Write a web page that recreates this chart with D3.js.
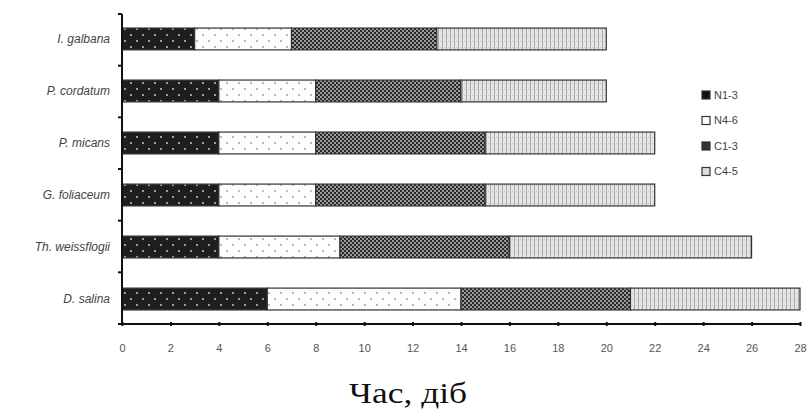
<!DOCTYPE html>
<html>
<head>
<meta charset="utf-8">
<script src="https://cdn.jsdelivr.net/npm/d3@7"></script>
<style>
  body { margin: 0; background: #fff; }
  svg { display: block; }
  .tick text { font-family: "Liberation Sans", Arial, sans-serif; fill: #555; }
</style>
</head>
<body>
<div id="chart"></div>
<script>
// species top to bottom
var species = ['I. galbana', 'P. cordatum', 'P. micans', 'G. foliaceum', 'Th. weissflogii', 'D. salina'];
var stages = ['N1-3', 'N4-6', 'C1-3', 'C4-5'];
// duration of each stage (days)
var n13 = [3, 4, 4, 4, 4, 6];
var n46 = [4, 4, 4, 4, 5, 8];
var c13 = [6, 6, 7, 7, 7, 7];
var c45 = [7, 6, 7, 7, 10, 7];
var xTicks = [0, 2, 4, 6, 8, 10, 12, 14, 16, 18, 20, 22, 24, 26, 28];

var width = 809, height = 416;
var margin = { top: 14, left: 122, bottom: 92, right: 9 };
var g_width = width - margin.left - margin.right;
var g_height = height - margin.top - margin.bottom;

var svg = d3.select('#chart').append('svg')
  .attr('width', width)
  .attr('height', height);

// patterns
var defs = svg.append('defs');

var p1 = defs.append('pattern').attr('id', 'p-n13').attr('patternUnits', 'userSpaceOnUse')
  .attr('width', 12).attr('height', 12);
p1.append('rect').attr('width', 12).attr('height', 12).attr('fill', '#1e1e1e');
p1.append('circle').attr('cx', 3).attr('cy', 3).attr('r', 1.1).attr('fill', '#bbb');
p1.append('circle').attr('cx', 9).attr('cy', 9).attr('r', 1.1).attr('fill', '#bbb');

var p2 = defs.append('pattern').attr('id', 'p-n46').attr('patternUnits', 'userSpaceOnUse')
  .attr('width', 12).attr('height', 12);
p2.append('rect').attr('width', 12).attr('height', 12).attr('fill', '#fdfdfd');
p2.append('circle').attr('cx', 3).attr('cy', 3).attr('r', 0.9).attr('fill', '#999');
p2.append('circle').attr('cx', 9).attr('cy', 9).attr('r', 0.9).attr('fill', '#999');

var p3 = defs.append('pattern').attr('id', 'p-c13').attr('patternUnits', 'userSpaceOnUse')
  .attr('width', 4).attr('height', 4);
p3.append('rect').attr('width', 4).attr('height', 4).attr('fill', '#2a2a2a');
p3.append('rect').attr('x', 0).attr('y', 0).attr('width', 2).attr('height', 2).attr('fill', '#9a9a9a');
p3.append('rect').attr('x', 2).attr('y', 2).attr('width', 2).attr('height', 2).attr('fill', '#9a9a9a');

var p4 = defs.append('pattern').attr('id', 'p-c45').attr('patternUnits', 'userSpaceOnUse')
  .attr('width', 4).attr('height', 6);
p4.append('rect').attr('width', 4).attr('height', 6).attr('fill', '#e6e6e6');
p4.append('rect').attr('x', 0).attr('y', 0).attr('width', 1).attr('height', 6).attr('fill', '#a8a8a8');
p4.append('rect').attr('x', 2).attr('y', 3).attr('width', 1).attr('height', 1).attr('fill', '#c4c4c4');

var fills = ['url(#p-n13)', 'url(#p-n46)', 'url(#p-c13)', 'url(#p-c45)'];

var g = svg.append('g')
  .attr('transform', 'translate(' + margin.left + ',' + margin.top + ')');

var xScale = d3.scaleLinear().domain([0, 28]).range([0, g_width]);
var yScale = d3.scaleBand().domain(species).range([0, g_height]).paddingInner(0.58).paddingOuter(0.27);

// build stacked rows
var rows = species.map(function (s, i) {
  return { species: s, 'N1-3': n13[i], 'N4-6': n46[i], 'C1-3': c13[i], 'C4-5': c45[i] };
});
var stacked = d3.stack().keys(stages)(rows);

stacked.forEach(function (layer, k) {
  g.selectAll('.bar' + k)
    .data(layer)
    .enter()
    .append('rect')
    .attr('class', 'bar' + k)
    .attr('x', function (d) { return xScale(d[0]); })
    .attr('y', function (d) { return yScale(d.data.species); })
    .attr('width', function (d) { return xScale(d[1]) - xScale(d[0]); })
    .attr('height', yScale.bandwidth())
    .attr('fill', fills[k])
    .attr('stroke', '#333')
    .attr('stroke-width', 1.2);
});

// x axis
var xAxis = d3.axisBottom(xScale).tickValues(xTicks).tickSize(4).tickPadding(16);
var xg = g.append('g')
  .attr('transform', 'translate(0,' + g_height + ')')
  .call(xAxis);
xg.select('.domain').attr('stroke', '#111').attr('stroke-width', 2).attr('d', 'M0,0H' + g_width);
xg.selectAll('.tick line').attr('stroke', '#111').attr('stroke-width', 2).attr('y1', -2).attr('y2', 2);
xg.selectAll('.tick text').attr('font-size', 11);

// y axis with ticks between categories
var bounds = d3.range(species.length + 1).map(function (i) {
  return g_height - i * (g_height / species.length);
});
g.append('line')
  .attr('x1', 0).attr('x2', 0)
  .attr('y1', 0).attr('y2', g_height)
  .attr('stroke', '#111').attr('stroke-width', 2);
g.selectAll('.ytick')
  .data(bounds)
  .enter()
  .append('line')
  .attr('class', 'ytick')
  .attr('x1', -4).attr('x2', 0)
  .attr('y1', function (d) { return d; })
  .attr('y2', function (d) { return d; })
  .attr('stroke', '#111').attr('stroke-width', 2);

// category labels
g.selectAll('.ylabel')
  .data(species)
  .enter()
  .append('text')
  .attr('class', 'ylabel')
  .attr('x', -12)
  .attr('y', function (d) { return yScale(d) + yScale.bandwidth() / 2; })
  .attr('dy', '0.35em')
  .attr('text-anchor', 'end')
  .attr('font-family', '"Liberation Sans", Arial, sans-serif')
  .attr('font-style', 'italic')
  .attr('font-size', 12)
  .attr('fill', '#444')
  .text(function (d) { return d; });

// legend
var legend = svg.append('g').attr('transform', 'translate(702,91)');
stages.forEach(function (s, i) {
  var item = legend.append('g').attr('transform', 'translate(0,' + (i * 25.5) + ')');
  item.append('rect')
    .attr('width', 8).attr('height', 8)
    .attr('fill', ['#111', '#fff', '#333', '#ddd'][i])
    .attr('stroke', '#333').attr('stroke-width', 1.2);
  item.append('text')
    .attr('x', 12).attr('y', 4).attr('dy', '0.35em')
    .attr('font-family', '"Liberation Sans", Arial, sans-serif')
    .attr('font-size', 11)
    .attr('fill', '#444')
    .text(s);
});

// axis title
svg.append('text')
  .attr('x', 349)
  .attr('y', 403)
  .attr('textLength', 118)
  .attr('lengthAdjust', 'spacingAndGlyphs')
  .attr('font-family', '"Liberation Serif", "Times New Roman", serif')
  .attr('font-size', 30)
  .attr('fill', '#111')
  .text('Час, діб');
</script>
</body>
</html>
